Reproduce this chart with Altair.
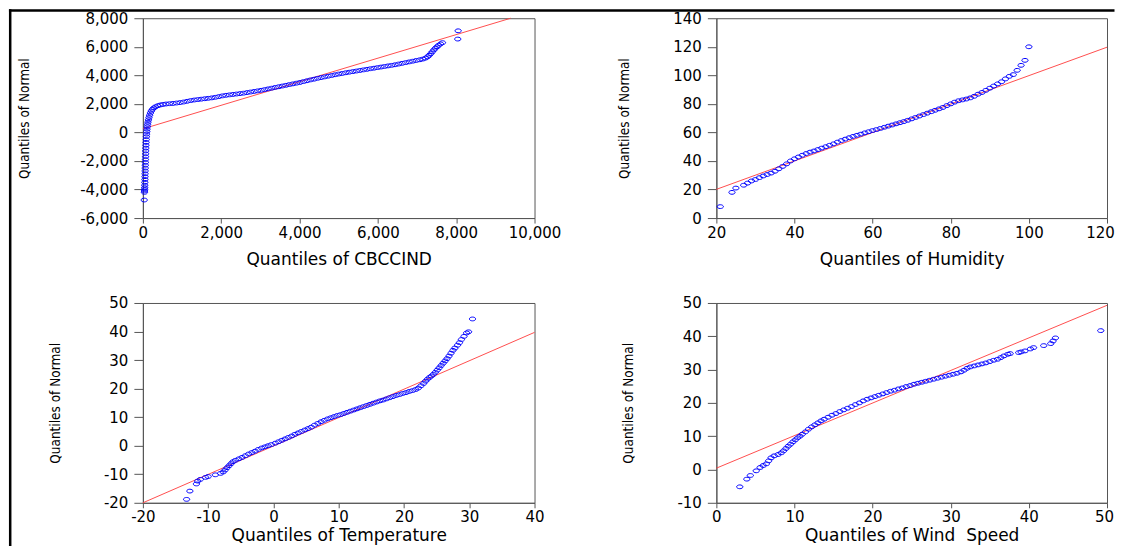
import altair as alt
import pandas as pd

# ---------------- data ----------------
# Panel 1: CBCCIND
cb_x = [34, 40, 42, 44, 46, 48, 50, 52, 54, 56, 58, 60, 62, 64, 66, 68, 70, 72, 75, 78,
        82, 86, 90, 95, 100, 106, 113, 120, 130, 142, 156, 172, 192, 215, 245, 280, 325,
        380, 440, 510, 590, 680, 770, 860, 950, 1040, 1130, 1220, 1310, 1400, 1490, 1580,
        1670, 1760, 1850, 1940, 2030, 2120, 2210, 2300, 2390, 2480, 2570, 2660, 2750,
        2840, 2930, 3020, 3110, 3200, 3290, 3380, 3470, 3560, 3650, 3740, 3830, 3920,
        4010, 4100, 4190, 4280, 4370, 4460, 4550, 4640, 4730, 4820, 4910, 5000, 5090,
        5180, 5270, 5360, 5450, 5540, 5630, 5720, 5810, 5900, 5990, 6080, 6170, 6260,
        6350, 6440, 6530, 6620, 6710, 6800, 6890, 6980, 7070, 7150, 7220, 7270, 7310,
        7350, 7390, 7430, 7470, 7510, 7550, 7600, 7650, 8040, 8050]
cb_y = [-4737, -4200, -4100, -4000, -3870, -3700, -3500, -3300, -3100, -2900, -2700,
        -2500, -2300, -2100, -1900, -1700, -1500, -1300, -1100, -900, -700, -500, -300,
        -120, 60, 230, 400, 560, 720, 880, 1040, 1200, 1360, 1500, 1620, 1720, 1800,
        1870, 1920, 1960, 1990, 2010, 2030, 2060, 2090, 2130, 2180, 2230, 2270, 2300,
        2330, 2360, 2390, 2420, 2460, 2510, 2560, 2600, 2630, 2660, 2690, 2720, 2750,
        2790, 2830, 2870, 2910, 2950, 3000, 3050, 3100, 3150, 3200, 3250, 3300, 3350,
        3400, 3450, 3500, 3560, 3620, 3680, 3730, 3790, 3840, 3890, 3940, 3990, 4040,
        4090, 4130, 4180, 4220, 4260, 4300, 4340, 4380, 4420, 4460, 4500, 4540, 4580,
        4620, 4660, 4700, 4740, 4790, 4840, 4890, 4940, 4990, 5040, 5090, 5140, 5210,
        5300, 5400, 5520, 5650, 5780, 5900, 6000, 6100, 6200, 6290, 6540, 7120]
cb_line_x = [0, 9390]
cb_line_y = [250, 8000]

# Panel 2: Humidity
hu_x = [21, 24, 25, 27, 28, 29, 30, 31, 32, 33, 34, 35, 36, 37, 38, 39, 40, 41, 42, 43,
        44, 45, 46, 47, 48, 49, 50, 51, 52, 53, 54, 55, 56, 57, 58, 59, 60, 61, 62, 63,
        64, 65, 66, 67, 68, 69, 70, 71, 72, 73, 74, 75, 76, 77, 78, 79, 80, 81, 82, 83,
        84, 85, 86, 87, 88, 89, 90, 91, 92, 93, 94, 95, 96, 97, 98, 99, 100]
hu_y = [8, 18, 21, 23, 24.5, 26, 27, 28.3, 29.5, 30.5, 31.5, 32.8, 34.5, 36.2, 38, 40,
        41.5, 42.8, 44, 45.2, 46.2, 47, 48, 49, 50, 51, 52, 53.2, 54.3, 55.3, 56.3, 57.2,
        58, 58.8, 59.7, 60.5, 61.3, 62, 62.8, 63.6, 64.4, 65.2, 66, 66.8, 67.6, 68.5,
        69.5, 70.5, 71.5, 72.5, 73.5, 74.5, 75.5, 76.5, 77.5, 78.8, 80, 81.2, 82.2, 82.8,
        83.4, 84.2, 85.3, 86.8, 88, 89.5, 91, 92.5, 94, 95.5, 97.5, 99.3, 100.5, 103.5,
        107, 110.5, 120]
hu_line_x = [20, 120]
hu_line_y = [20.1, 119.7]

# Panel 3: Temperature
te_x = [-13.3, -12.8, -11.8, -11.6, -11.2, -10.4, -10.0, -8.9, -8.1, -7.7, -7.4, -7.1,
        -6.8, -6.5, -6.2, -5.8, -5.3, -4.8, -4.3, -3.8, -3.3, -2.8, -2.3, -1.8, -1.3,
        -0.8, -0.3, 0.3, 0.8, 1.3, 1.8, 2.3, 2.8, 3.3, 3.8, 4.3, 4.8, 5.3, 5.8, 6.3, 6.8,
        7.3, 7.8, 8.3, 8.8, 9.3, 9.8, 10.3, 10.8, 11.3, 11.8, 12.3, 12.8, 13.3, 13.8,
        14.3, 14.8, 15.3, 15.8, 16.3, 16.8, 17.3, 17.8, 18.3, 18.8, 19.3, 19.8, 20.3,
        20.8, 21.3, 21.8, 22.2, 22.6, 23.0, 23.3, 23.6, 23.9, 24.2, 24.5, 24.8, 25.1,
        25.4, 25.7, 26.0, 26.3, 26.6, 26.9, 27.2, 27.5, 27.8, 28.2, 28.5, 28.8, 29.2,
        29.6, 29.9, 30.5]
te_y = [-18.8, -15.9, -13.4, -12.4, -11.8, -11.1, -10.8, -10.2, -9.7, -9.2, -8.5, -7.7,
        -7.0, -6.3, -5.6, -5.1, -4.6, -4.1, -3.5, -2.9, -2.4, -1.9, -1.3, -0.8, -0.4,
        0.0, 0.4, 0.9, 1.4, 1.9, 2.4, 2.9, 3.4, 4.0, 4.5, 5.0, 5.5, 6.0, 6.5, 7.2, 7.8,
        8.4, 8.9, 9.4, 9.8, 10.2, 10.6, 10.9, 11.3, 11.7, 12.1, 12.5, 12.9, 13.3, 13.7,
        14.1, 14.5, 14.9, 15.3, 15.7, 16.0, 16.4, 16.8, 17.2, 17.6, 17.9, 18.3, 18.6,
        19.0, 19.3, 19.7, 20.2, 21.0, 21.8, 22.6, 23.3, 23.9, 24.4, 25.0, 25.7, 26.5,
        27.3, 28.1, 28.9, 29.7, 30.5, 31.4, 32.4, 33.4, 34.2, 35.2, 36.1, 37.2, 38.3,
        39.5, 39.9, 44.4]
te_line_x = [-20, 40]
te_line_y = [-20, 39.7]

# Panel 4: Wind Speed
ws_x = [3.0, 3.9, 4.35, 5.1, 5.6, 6.0, 6.4, 6.7, 7.0, 7.4, 7.9, 8.3, 8.6, 8.9, 9.2, 9.5,
        9.8, 10.1, 10.4, 10.7, 11.0, 11.4, 11.8, 12.2, 12.6, 13.0, 13.4, 13.8, 14.3,
        14.8, 15.3, 15.8, 16.3, 16.8, 17.3, 17.8, 18.3, 18.8, 19.3, 19.8, 20.3, 20.8,
        21.3, 21.8, 22.3, 22.8, 23.3, 23.8, 24.3, 24.8, 25.3, 25.8, 26.3, 26.8, 27.3,
        27.8, 28.3, 28.8, 29.3, 29.8, 30.3, 30.8, 31.3, 31.7, 32.1, 32.5, 33.0, 33.5,
        34.0, 34.5, 35.0, 35.5, 36.0, 36.4, 36.8, 37.3, 37.6, 38.7, 39.0, 39.5, 40.2,
        40.6, 41.9, 42.8, 43.1, 43.4, 49.2]
ws_y = [-5.2, -2.9, -1.8, -0.4, 0.6, 1.2, 1.7, 2.6, 3.5, 4.1, 4.5, 5.0, 5.6, 6.3, 7.0,
        7.6, 8.3, 8.9, 9.5, 10.0, 10.6, 11.3, 12.1, 12.8, 13.4, 14.0, 14.6, 15.1, 15.7,
        16.3, 16.8, 17.4, 17.9, 18.4, 18.9, 19.5, 20.0, 20.6, 21.1, 21.5, 21.9, 22.3,
        22.7, 23.1, 23.5, 23.8, 24.2, 24.5, 24.9, 25.2, 25.6, 25.9, 26.2, 26.5, 26.8,
        27.1, 27.4, 27.7, 28.0, 28.3, 28.6, 28.9, 29.3, 29.8, 30.4, 30.8, 31.1, 31.4,
        31.7, 32.0, 32.4, 32.8, 33.1, 33.6, 34.1, 34.6, 34.8, 35.1, 35.3, 35.6, 36.2,
        36.6, 37.2, 37.8, 38.6, 39.5, 41.7]
ws_line_x = [0, 50]
ws_line_y = [0.4, 49.3]

# axis ticks
cb_xticks = [0, 2000, 4000, 6000, 8000, 10000]
cb_yticks = [-6000, -4000, -2000, 0, 2000, 4000, 6000, 8000]
hu_xticks = [20, 40, 60, 80, 100, 120]
hu_yticks = [0, 20, 40, 60, 80, 100, 120, 140]
te_xticks = [-20, -10, 0, 10, 20, 30, 40]
te_yticks = [-20, -10, 0, 10, 20, 30, 40, 50]
ws_xticks = [0, 10, 20, 30, 40, 50]
ws_yticks = [-10, 0, 10, 20, 30, 40, 50]

# ---------------- styling ----------------
FONT = "DejaVu Sans"
NARROW = "Liberation Sans Narrow, DejaVu Sans Condensed, Arial Narrow, sans-serif"
ELLIPSE = "M-1,0 A1,0.6 0 1,1 1,0 A1,0.6 0 1,1 -1,0 Z"


def label_expr(fmt):
    return "replace(format(datum.value, '%s'), '\u2212', '-')" % fmt


def panel(px, py, lx, ly, xdom, xticks, ydom, yticks, xtitle, ytitle_x, fmt,
          width, xtitle_y=41, last_shift=0, extra=None):
    pts = pd.DataFrame({"x": px, "y": py})
    ln = pd.DataFrame({"x": lx, "y": ly})
    xaxis_kw = dict(values=xticks, labelExpr=label_expr(fmt), title=xtitle,
                    tickSize=5, labelPadding=2, titleY=xtitle_y, titleBaseline="middle",
                    labelFlush=False, grid=False)
    if last_shift:
        xaxis_kw["labelOffset"] = {
            "condition": {"test": "datum.value == %s" % xticks[-1], "value": last_shift},
            "value": 0,
        }
    xenc = alt.X("x:Q", scale=alt.Scale(domain=xdom, nice=False, zero=False),
                 axis=alt.Axis(**xaxis_kw))
    yenc = alt.Y(
        "y:Q",
        scale=alt.Scale(domain=ydom, nice=False, zero=False),
        axis=alt.Axis(values=yticks, labelExpr=label_expr(fmt),
                      title="Quantiles of Normal", tickSize=9, labelPadding=6,
                      titleX=ytitle_x, titleBaseline="middle", grid=False,
                      titleFont=NARROW, titleFontSize=13.5),
    )
    line = alt.Chart(ln).mark_line(color="#ff3b3b", strokeWidth=0.9).encode(x=xenc, y=yenc)
    points = alt.Chart(pts).mark_point(
        shape=ELLIPSE, size=40, filled=False, color="#0000ff", strokeWidth=1, opacity=1
    ).encode(x=xenc, y=yenc)
    layers = [line, points]
    if extra:
        layers += extra
    return alt.layer(*layers).properties(width=width, height=200)


# outer black frame (decoration), drawn as thin filled rectangles
frame_df = pd.DataFrame({"k": [0]})
frame_left = alt.Chart(frame_df).mark_rect(color="black").encode(
    x=alt.value(-134.05), x2=alt.value(-131.55), y=alt.value(-9.05), y2=alt.value(529)
)
frame_top = alt.Chart(frame_df).mark_rect(color="black").encode(
    x=alt.value(-134.05), x2=alt.value(972.5), y=alt.value(-9.05), y2=alt.value(-6.55)
)

p1 = panel(cb_x, cb_y, cb_line_x, cb_line_y, [0, 10000], cb_xticks, [-6000, 8000],
           cb_yticks, "Quantiles of CBCCIND", -118, ",", 392,
           extra=[frame_left, frame_top])
p2 = panel(hu_x, hu_y, hu_line_x, hu_line_y, [20, 120], hu_xticks, [0, 140], hu_yticks,
           "Quantiles of Humidity", -92, "d", 391, last_shift=-7)
p3 = panel(te_x, te_y, te_line_x, te_line_y, [-20, 40], te_xticks, [-20, 50], te_yticks,
           "Quantiles of Temperature", -87, "d", 392, xtitle_y=33)
p4 = panel(ws_x, ws_y, ws_line_x, ws_line_y, [0, 50], ws_xticks, [-10, 50], ws_yticks,
           "Quantiles of Wind\u00a0 Speed", -88, "d", 391, xtitle_y=33, last_shift=-3)

chart = (
    alt.concat(p1, p2, p3, p4, columns=2, spacing={"row": 85, "column": 182},
               bounds="flush")
    .properties(padding=0, background="white")
    .configure_view(stroke="#555555", strokeWidth=1)
    .configure_axis(
        domainColor="#555555", tickColor="#555555", domainWidth=1, tickWidth=1,
        labelColor="black", labelFont=FONT, labelFontSize=15,
        titleColor="black", titleFont=FONT, titleFontSize=17, titleFontWeight="normal",
    )
)

chart.save("out.html", embed_options={"renderer": "svg", "actions": False})
